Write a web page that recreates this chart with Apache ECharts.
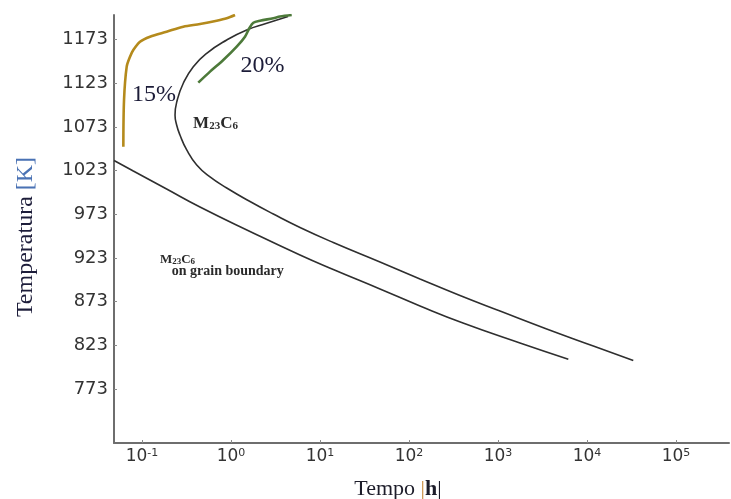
<!DOCTYPE html>
<html>
<head>
<meta charset="utf-8">
<script src="https://cdn.jsdelivr.net/npm/echarts@6/dist/echarts.min.js"></script>
<style>
  html, body { margin: 0; padding: 0; background: #ffffff; }
  #chart { width: 731px; height: 499px; }
</style>
</head>
<body>
<div id="chart"></div>
<script>
// Precipitation start curves: ageing time [h] against temperature [K]

// M23C6 on grain boundary
const boundaryTime = [0.0485, 0.0798, 0.189, 0.448, 1.635, 5.96, 14.1, 47.2, 132.9, 404, 1766, 6166];
const boundaryTemp = [1034.6, 1022.5, 1001.9, 981.3, 953.3, 926.4, 909.8, 887.5, 868.1, 848.6, 825.7, 807.1];

// M23C6 in the matrix (C-shaped nose)
const matrixTime = [4.37, 2.52, 1.50, 0.895, 0.533, 0.377, 0.291, 0.249, 0.235, 0.245, 0.267, 0.318, 0.412,
                    0.581, 0.895, 1.635, 2.99, 5.96, 14.1, 47.2, 132.9, 374, 1053, 3524, 11780, 33110];
const matrixTemp = [1199.3, 1191.5, 1183.9, 1172.4, 1157.2, 1141.9, 1122.9, 1103.8, 1086.6, 1075.2, 1063.7, 1046.6, 1029.4,
                    1015.7, 1003.1, 987.6, 973.3, 957.9, 940.7, 918.4, 899.0, 880.1, 862.3, 841.8, 822.3, 805.7];

// 15 % curve
const cr15Time = [0.0617, 0.0628, 0.0673, 0.0733, 0.0798, 0.095, 0.123, 0.189, 0.291, 0.449, 0.691, 0.895, 1.11];
const cr15Temp = [1050.3, 1103.8, 1141.9, 1153.3, 1161.0, 1170.5, 1176.2, 1181.9, 1187.6, 1190.7, 1194.5, 1197.3, 1201.0];

// 20 % curve
const cr20Time = [0.429, 0.581, 0.819, 1.159, 1.436, 1.605, 1.781, 2.118, 2.986, 3.55, 4.81];
const cr20Temp = [1123.6, 1136.2, 1149.5, 1164.8, 1176.2, 1185.8, 1192.2, 1194.5, 1197.3, 1199.3, 1201.0];

// Axis ticks
const tempTicks = [773, 823, 873, 923, 973, 1023, 1073, 1123, 1173];
const timeTicks = [0.1, 1, 10, 100, 1000, 10000, 100000];

const zip = (xs, ys) => xs.map((x, i) => [x, ys[i]]);

const serif = '"Liberation Serif", "Times New Roman", serif';
const sans = '"DejaVu Sans", "Liberation Sans", Arial, sans-serif';

const chemRich = (size, sub) => ({
  m: { fontFamily: serif, fontSize: size, fontWeight: 'bold', color: '#2a2a2a', lineHeight: size + 2, verticalAlign: 'bottom' },
  s: { fontFamily: serif, fontSize: sub, fontWeight: 'bold', color: '#2a2a2a', lineHeight: 4, verticalAlign: 'bottom' }
});
const chemText = '{m|M}{s|23}{m|C}{s|6}';

const hiddenMark = { symbol: 'circle', symbolSize: 0, itemStyle: { color: 'rgba(0,0,0,0)' } };

const chart = echarts.init(document.getElementById('chart'), null, { renderer: 'canvas' });

const option = {
  animation: false,
  backgroundColor: '#ffffff',
  grid: { left: 114, right: 2, top: 15, bottom: 56, containLabel: false },
  xAxis: {
    type: 'log',
    logBase: 10,
    min: 0.04845,
    max: 394000,
    axisLine: { show: true, onZero: false, lineStyle: { color: '#6e6e6e', width: 2 } },
    axisTick: { show: true, inside: true, length: 3, customValues: timeTicks, lineStyle: { color: '#8a8a8a' } },
    minorTick: { show: false },
    splitLine: { show: false },
    axisLabel: {
      customValues: timeTicks,
      margin: 5,
      formatter: (v) => '{b|10}{e|' + Math.round(Math.log10(v)) + '}',
      rich: {
        b: { fontFamily: sans, fontSize: 17, color: '#333333', lineHeight: 20, verticalAlign: 'top' },
        e: { fontFamily: sans, fontSize: 11, color: '#333333', lineHeight: 13, verticalAlign: 'top' }
      }
    }
  },
  yAxis: {
    type: 'value',
    min: 711.3,
    max: 1201,
    axisLine: { show: true, onZero: false, lineStyle: { color: '#6e6e6e', width: 2 } },
    axisTick: { show: true, inside: true, length: 3, customValues: tempTicks, lineStyle: { color: '#8a8a8a' } },
    splitLine: { show: false },
    axisLabel: {
      customValues: tempTicks,
      margin: 6,
      formatter: (v) => String(Math.round(v)),
      fontFamily: sans,
      fontSize: 18,
      color: '#333333'
    }
  },
  series: [
    {
      name: 'M23C6 grain boundary',
      type: 'line',
      data: zip(boundaryTime, boundaryTemp),
      showSymbol: false,
      smooth: 0.5,
      lineStyle: { color: '#2f2f2f', width: 1.6 },
      markPoint: Object.assign({}, hiddenMark, {
        data: [
          { coord: [0.159, 921.9], label: { show: true, position: 'right', distance: 0, formatter: chemText, rich: chemRich(13, 9) } },
          { coord: [0.216, 908.1], label: { show: true, position: 'right', distance: 0, formatter: 'on grain boundary',
              fontFamily: serif, fontSize: 14, fontWeight: 'bold', color: '#2a2a2a' } }
        ]
      })
    },
    {
      name: 'M23C6',
      type: 'line',
      data: zip(matrixTime, matrixTemp),
      showSymbol: false,
      smooth: 0.5,
      lineStyle: { color: '#2f2f2f', width: 1.6 },
      markPoint: Object.assign({}, hiddenMark, {
        data: [
          { coord: [0.67, 1078], label: { show: true, position: 'inside', formatter: chemText, rich: chemRich(17, 11) } }
        ]
      })
    },
    {
      name: '15%',
      type: 'line',
      data: zip(cr15Time, cr15Temp),
      showSymbol: false,
      smooth: 0.3,
      lineStyle: { color: '#b48a1c', width: 2.6 },
      markPoint: Object.assign({}, hiddenMark, {
        data: [
          { coord: [0.136, 1109.5], label: { show: true, position: 'inside', formatter: '15%',
              fontFamily: serif, fontSize: 24, color: '#1c1c38' } }
        ]
      })
    },
    {
      name: '20%',
      type: 'line',
      data: zip(cr20Time, cr20Temp),
      showSymbol: false,
      smooth: 0.3,
      lineStyle: { color: '#4d7a3a', width: 2.6 },
      markPoint: Object.assign({}, hiddenMark, {
        data: [
          { coord: [2.26, 1142.7], label: { show: true, position: 'inside', formatter: '20%',
              fontFamily: serif, fontSize: 24, color: '#1c1c38' } }
        ]
      })
    }
  ],
  graphic: [
    {
      type: 'text',
      x: 26,
      y: 237,
      rotation: Math.PI / 2,
      style: {
        text: '{a|Temperatura }{k|[K]}',
        align: 'center',
        verticalAlign: 'middle',
        rich: {
          a: { fontFamily: serif, fontSize: 24, fill: '#1d1d3a' },
          k: { fontFamily: serif, fontSize: 24, fill: '#4a72b4' }
        }
      }
    },
    {
      type: 'text',
      x: 398,
      y: 489,
      style: {
        text: '{a|Tempo }{o||}{h|h}{a||}',
        align: 'center',
        verticalAlign: 'middle',
        rich: {
          a: { fontFamily: serif, fontSize: 22, fill: '#1d1d2a' },
          o: { fontFamily: serif, fontSize: 22, fill: '#c98a3c' },
          h: { fontFamily: serif, fontSize: 22, fontWeight: 'bold', fill: '#1d1d2a' }
        }
      }
    }
  ]
};

chart.setOption(option);
</script>
</body>
</html>
